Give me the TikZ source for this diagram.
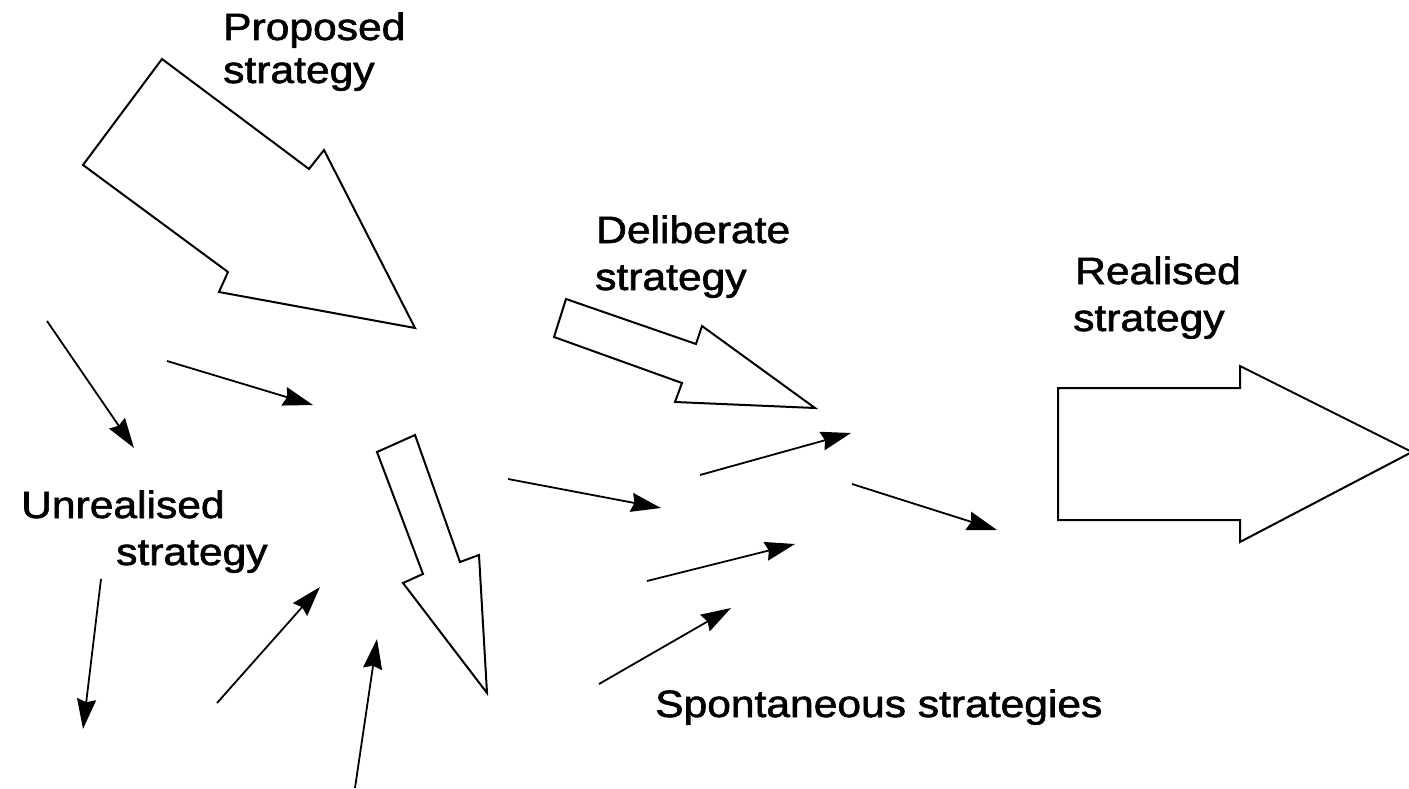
\documentclass[tikz,border=0pt]{standalone}
\usepackage{fontspec}
\setmainfont{Liberation Sans}[FakeStretch=1.12,FakeBold=1.6]
\usetikzlibrary{arrows.meta}
\begin{document}
\begin{tikzpicture}[x=1pt,y=-1pt,
  blockarrow/.style={draw=black,line width=2pt,line join=miter,fill=white},
  thinarrow/.style={draw=black,line width=1.8pt,-{Stealth[length=30pt,width=19pt,inset=3pt]}},
  lbl/.style={anchor=base west,inner sep=0pt,font=\fontsize{38}{43}\selectfont}]
\useasboundingbox (0,0) rectangle (1409,789);

% labels
\node[lbl] (prop1) at (223,40) {Proposed};
\node[lbl] (prop2) at (223,83) {strategy};
\node[lbl] (delib1) at (596,243) {Deliberate};
\node[lbl] (delib2) at (595,290) {strategy};
\node[lbl] (real1) at (1075,284) {Realised};
\node[lbl] (real2) at (1073,331) {strategy};
\node[lbl] (unreal1) at (21,518) {Unrealised};
\node[lbl] (unreal2) at (116,565) {strategy};
\node[lbl] (spont) at (655,717) {Spontaneous strategies};

% block arrows
\draw[blockarrow] (162,59) -- (83,165) -- (228,272) -- (219,292) -- (415,328)
  -- (324,150) -- (309,169) -- cycle;
\draw[blockarrow] (566,299) -- (554,337) -- (682,383) -- (675,402) -- (815,408)
  -- (702,326) -- (696,344) -- cycle;
\draw[blockarrow] (1058,388) -- (1240,388) -- (1240,366) -- (1412,452)
  -- (1240,542) -- (1240,520) -- (1058,520) -- cycle;
\draw[blockarrow] (377,452) -- (415,435) -- (460,562) -- (479,555) -- (487,693)
  -- (403,583) -- (423,574) -- cycle;

% end points of the plain arrows
\coordinate (a1s) at (47,321);   \coordinate (a1e) at (134,448);
\coordinate (a2s) at (167,361);  \coordinate (a2e) at (313,405);
\coordinate (a3s) at (101,579);  \coordinate (a3e) at (83,729);
\coordinate (a4s) at (217,703);  \coordinate (a4e) at (320,587);
\coordinate (a5s) at (355,788);  \coordinate (a5e) at (377,639);
\coordinate (a6s) at (508,479);  \coordinate (a6e) at (661,508);
\coordinate (a7s) at (700,475);  \coordinate (a7e) at (851,433);
\coordinate (a8s) at (852,484);  \coordinate (a8e) at (997,530);
\coordinate (a9s) at (647,581);  \coordinate (a9e) at (795,544);
\coordinate (a10s) at (599,684); \coordinate (a10e) at (731,608);

\foreach \i in {1,...,10} \draw[thinarrow] (a\i s) -- (a\i e);
\end{tikzpicture}
\end{document}
